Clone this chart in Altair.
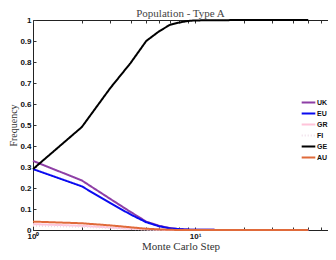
import altair as alt
import pandas as pd

steps = [1, 2, 3, 4, 5, 6, 7, 8, 9, 10, 20, 30, 40, 50]
series = ["UK", "EU", "GR", "FI", "GE", "AU"]
uk = [0.329, 0.236, 0.148, 0.086, 0.040, 0.020, 0.009, 0.004, 0.002, 0.001, 0.0, 0.0, 0.0, 0.0]
eu = [0.290, 0.208, 0.128, 0.074, 0.037, 0.018, 0.008, 0.004, 0.002, 0.001, 0.0, 0.0, 0.0, 0.0]
gr = [0.028, 0.020, 0.012, 0.006, 0.003, 0.001, 0.0, 0.0, 0.0, 0.0, 0.0, 0.0, 0.0, 0.0]
fi = [0.020, 0.015, 0.009, 0.005, 0.002, 0.001, 0.0, 0.0, 0.0, 0.0, 0.0, 0.0, 0.0, 0.0]
ge = [0.290, 0.490, 0.676, 0.795, 0.900, 0.946, 0.977, 0.988, 0.995, 0.998, 1.0, 1.0, 1.0, 1.0]
au = [0.040, 0.032, 0.022, 0.013, 0.006, 0.003, 0.001, 0.0, 0.0, 0.0, 0.0, 0.0, 0.0, 0.0]

colors = ["#8E3FA6", "#0A0AF0", "#FFC4DA", "#EEDCE8", "#000000", "#E06A3A"]
widths = [2.0, 2.0, 1.3, 1.0, 2.0, 1.3]
dashes = [[1, 0], [1, 0], [1, 0], [1, 2], [1, 0], [1, 0]]

x_ticks = [1, 2, 3, 4, 5, 6, 7, 8, 9, 10, 20, 30, 40, 50, 60]
y_ticks = [0, 0.1, 0.2, 0.3, 0.4, 0.5, 0.6, 0.7, 0.8, 0.9, 1.0]

rows = []
for name, vals in zip(series, [uk, eu, gr, fi, ge, au]):
    for s, v in zip(steps, vals):
        rows.append({"step": s, "freq": v, "series": name})
df = pd.DataFrame(rows)

xscale = alt.Scale(type="log", domain=[1, 66.2], nice=False)
yscale = alt.Scale(domain=[0, 1], nice=False)

lines = alt.Chart(df).mark_line().encode(
    x=alt.X("step:Q", scale=xscale, title="Monte Carlo Step",
            axis=alt.Axis(orient="bottom", values=x_ticks, offset=-3, tickSize=3, domain=False,
                          labelExpr="datum.value == 1 ? '10⁰' : (datum.value == 10 ? '10¹' : '')",
                          labelPadding=2, labelFont="Liberation Sans", labelFontWeight="bold",
                          labelFontSize=8, labelColor="#111", titleFont="Liberation Serif",
                          titleFontSize=11, titleFontWeight="normal", titleColor="#333",
                          titlePadding=0, tickColor="#333", grid=False, labelFlush=False,
                          minExtent=0)),
    y=alt.Y("freq:Q", scale=yscale, title="Frequency",
            axis=alt.Axis(orient="left", values=y_ticks, offset=-3, tickSize=3, domain=False,
                          format=".1~f", labelPadding=2, labelFont="Liberation Sans",
                          labelFontWeight="bold", labelFontSize=8, labelColor="#111",
                          titleFont="Liberation Serif", titleFontSize=10, titleFontWeight="normal",
                          titleColor="#333", titlePadding=1, tickColor="#333", grid=False,
                          minExtent=0)),
    color=alt.Color("series:N", scale=alt.Scale(domain=series, range=colors), title=None,
                    legend=alt.Legend(orient="none", legendX=269, legendY=76,
                                      symbolType="M-1.3,0H1.3", symbolSize=110,
                                      labelFont="Liberation Sans",
                                      labelFontWeight="bold", labelFontSize=7, labelColor="#111",
                                      labelOffset=2, rowPadding=-3.5, padding=0)),
    strokeWidth=alt.StrokeWidth("series:N", scale=alt.Scale(domain=series, range=widths), legend=None),
    strokeDash=alt.StrokeDash("series:N", scale=alt.Scale(domain=series, range=dashes), legend=None),
)

top = alt.Chart(df).mark_line(opacity=0).encode(
    x=alt.X("step:Q", scale=xscale,
            axis=alt.Axis(orient="top", values=x_ticks, offset=-3, tickSize=3, domain=False,
                          labels=False, title=None, tickColor="#333", grid=False, minExtent=0)),
    y=alt.Y("freq:Q", scale=yscale, axis=None),
)

chart = alt.layer(lines, top).resolve_axis(x="independent", y="independent").properties(
    width=295, height=210,
    autosize=alt.AutoSizeParams(type="none"),
    padding={"left": 25, "top": 12, "right": 0, "bottom": 22},
    title=alt.Title("Population - Type A", font="Liberation Serif", fontSize=11,
                    fontWeight="normal", color="#444", offset=-3, frame="group"),
).configure_view(stroke="#222", strokeWidth=1)

chart.save("out.html", embed_options={"renderer": "svg", "actions": False})
